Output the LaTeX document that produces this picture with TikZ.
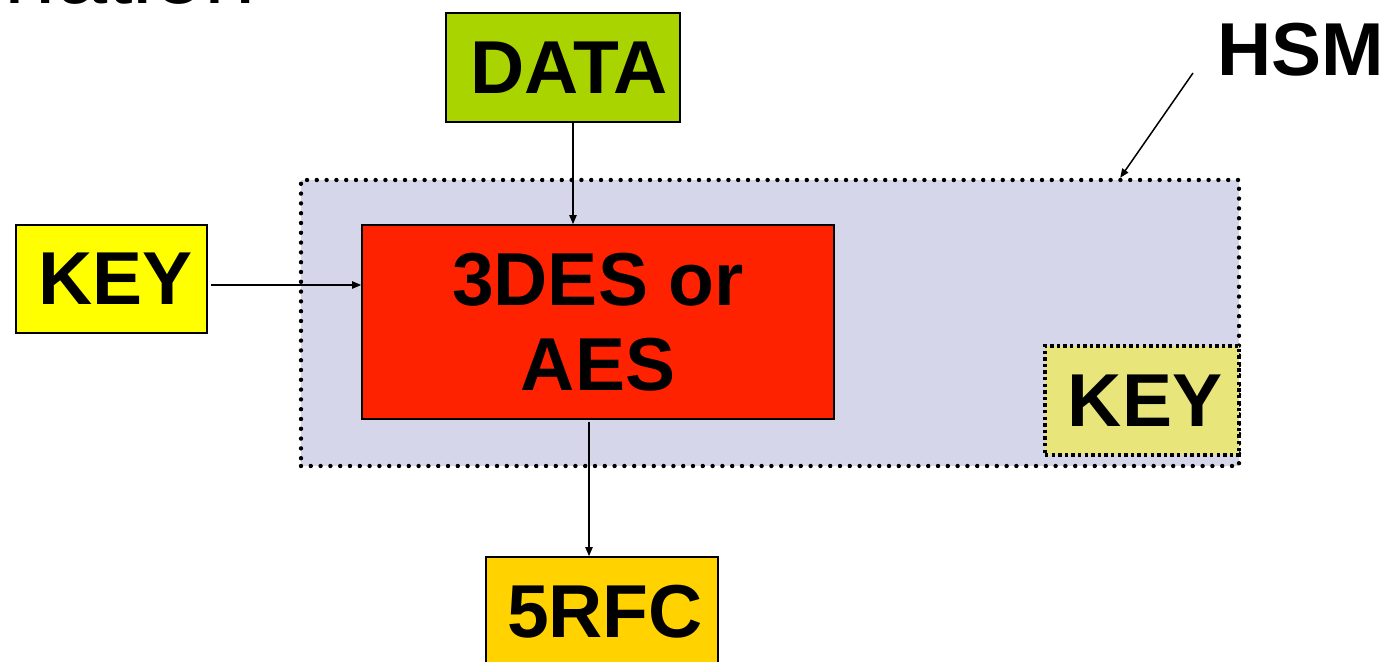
\documentclass[tikz,border=0pt]{standalone}
\usepackage{fontspec}
\setmainfont{Liberation Sans}
\usetikzlibrary{arrows.meta,calc}
\definecolor{hsmfill}{HTML}{D6D6EA}
\definecolor{datafill}{HTML}{AAD400}
\definecolor{keyfill}{HTML}{FFFF00}
\definecolor{desfill}{HTML}{FF2200}
\definecolor{keyinfill}{HTML}{E8E67A}
\definecolor{rfcfill}{HTML}{FFD200}
\begin{document}
\begin{tikzpicture}[x=0.5pt,y=-0.5pt,
  box/.style={draw=black, line width=0.8pt, inner sep=0pt,
    font=\bfseries\fontsize{37.5}{42.5}\selectfont, align=center},
  conn/.style={line width=0.75pt, -{Triangle[length=4.5pt,width=3.6pt]}},
  hsmbox/.style={fill=hsmfill, draw=black, line width=2.2pt, line cap=round,
    dash pattern=on 0pt off 4.9pt, inner sep=0pt},
  keyin/.style={box, fill=keyinfill, line width=1.9pt, line cap=butt,
    dash pattern=on 1.7pt off 1.6pt},
  lbl/.style={font=\bfseries\fontsize{37.5}{42}\selectfont, inner sep=0pt}
]
\useasboundingbox (0,0) rectangle (1397,662);
\clip (0,0) rectangle (1397,662);
\fill[white] (0,0) rectangle (1397,662);

% title fragment cut at the top
\node[anchor=base east, inner sep=0pt, font=\fontsize{46}{50}\selectfont] (title) at (256,4) {nation};

\node[hsmbox, minimum width=469pt, minimum height=143pt] (hsm) at (770,323) {};
\node[box, fill=datafill, minimum width=117pt, minimum height=54.5pt] (data) at (563,67.5) {\hspace*{6pt}DATA};
\node[box, fill=keyfill, minimum width=95.5pt, minimum height=54pt] (key) at (111.5,279) {\hspace*{4pt}KEY};
\node[box, fill=desfill, minimum width=236pt, minimum height=97pt] (des) at (598,322) {3DES or\\AES};
\node[keyin, minimum width=97pt, minimum height=54.5pt] (keyin) at (1142,400.5) {\hspace*{3pt}KEY};
\node[box, fill=rfcfill, minimum width=116pt, minimum height=55pt] (rfc) at (602,612) {\hspace*{3pt}5RFC};
\node[lbl] (hsmlabel) at (1301,50) {HSM};

\coordinate (hsmtail) at (1193,73);
\coordinate (hsmhead) at ($(hsm.north east)+(-121,0)$);

\draw[conn] ([xshift=5pt,yshift=1pt]data.south) -- ([xshift=5pt]data.south |- des.north);
\draw[conn] ([xshift=1.5pt,yshift=-3pt]key.east) -- ([yshift=-3pt]key.east -| des.west);
\draw[conn] ([xshift=-4.5pt,yshift=-1pt]des.south) -- ([xshift=-4.5pt]des.south |- rfc.north);
\draw[conn] (hsmtail) -- (hsmhead);
\end{tikzpicture}
\end{document}
